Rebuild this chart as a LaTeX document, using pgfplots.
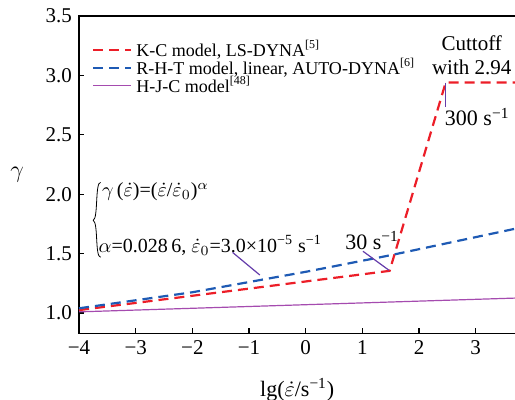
\documentclass[border=0pt]{standalone}
\usepackage{fontspec}
\setmainfont{Liberation Serif}
\usepackage{pgfplots}
\pgfplotsset{compat=1.18}
\definecolor{kcred}{RGB}{236,30,40}
\definecolor{rhtblue}{RGB}{30,90,180}
\definecolor{hjcpurple}{RGB}{165,75,175}
\definecolor{annline}{RGB}{100,60,170}
\begin{document}
\begin{tikzpicture}
\begin{axis}[
  at={(0,0)}, anchor=south west,
  scale only axis,
  width=218pt, height=158.5pt,
  xmin=-4, xmax=3.7, ymin=0.83, ymax=3.5,
  xtick={-4,-3,-2,-1,0,1,2,3},
  xticklabels={−4,−3,−2,−1,0,1,2,3},
  ytick={1,1.5,2,2.5,3,3.5},
  yticklabels={1.0,1.5,2.0,2.5,3.0,3.5},
  xtick pos=left, ytick pos=left,
  tick align=inside,
  major tick length=2.5pt,
  tick style={black, line width=0.6pt},
  axis line style={line width=0.6pt},
  xlabel={lg($\dot{\varepsilon}$/s\textsuperscript{−1})},
  ylabel={$\gamma$},
  xlabel style={at={(0.5,0)}, anchor=north, yshift=-19pt, font=\fontsize{11}{13}\selectfont},
  ylabel style={at={(0,0.5)}, anchor=center, rotate=-90, xshift=-31pt, font=\fontsize{12}{13}\selectfont},
  ticklabel style={font=\fontsize{10.5}{12}\selectfont},
  legend style={at={(0.02,0.95)}, anchor=north west, draw=none, fill=none,
    font=\fontsize{9}{10}\selectfont, row sep=-4.5pt, cells={anchor=west},
    inner xsep=2pt},
  legend image code/.code={\draw[#1] (0pt,0pt) -- (19pt,0pt);},
  clip=false,
]
\addplot[kcred, line width=1.1pt, dash pattern=on 5pt off 3pt] coordinates {
  (-4,1.025) (1.48,1.355) (2.47,2.94) (3.7,2.94)};
\addlegendentry{K-C model, LS-DYNA\textsuperscript{[5]}}
\addplot[rhtblue, line width=1.1pt, dash pattern=on 5pt off 3pt] coordinates {
  (-4,1.04) (-2,1.175) (0,1.347) (1.5,1.487) (3.7,1.71)};
\addlegendentry{R-H-T model, linear, AUTO-DYNA\textsuperscript{[6]}}
\addplot[hjcpurple, line width=0.6pt] coordinates {
  (-4,1.01) (3.7,1.126)};
\addlegendentry{H-J-C model\textsuperscript{[48]}}

\node[align=center, font=\fontsize{10.5}{12}\selectfont] at (axis cs:2.93,3.17) {Cuttoff\\with 2.94};
\draw[annline, line width=0.6pt] (axis cs:2.47,2.94) -- (axis cs:2.47,2.73);
\node[anchor=west, font=\fontsize{11}{12}\selectfont, inner sep=0pt] at (axis cs:2.45,2.65) {300 s\textsuperscript{−1}};
\node[font=\fontsize{11}{12}\selectfont, inner sep=0pt] at (axis cs:1.17,1.61) {30 s\textsuperscript{−1}};
\draw[annline, line width=0.6pt] (axis cs:1.01,1.52) -- (axis cs:1.47,1.36);
\node[anchor=west, inner sep=0pt, font=\fontsize{10}{12}\selectfont] at (axis cs:-3.6,2.02) {$\gamma$\,($\dot{\varepsilon}$)=($\dot{\varepsilon}$/$\dot{\varepsilon}_0$)$^{\alpha}$};
\node[anchor=west, inner sep=0pt, font=\fontsize{10}{12}\selectfont] at (axis cs:-3.66,1.57) {$\alpha$=0.028\,6, $\dot{\varepsilon}_0$=3.0×10\textsuperscript{−5} s\textsuperscript{−1}};
\draw[line width=0.4pt] (axis cs:-3.62,2.1) .. controls (axis cs:-3.72,2.1) and (axis cs:-3.66,1.8) .. (axis cs:-3.75,1.78)
  .. controls (axis cs:-3.66,1.76) and (axis cs:-3.72,1.47) .. (axis cs:-3.62,1.47);
\draw[annline, line width=0.6pt] (axis cs:-1.29,1.51) -- (axis cs:-0.81,1.32);
\end{axis}
\pgfresetboundingbox
\path[use as bounding box] (-39.5pt,-33pt) rectangle (217.8pt,166.5pt);
\end{tikzpicture}
\end{document}
